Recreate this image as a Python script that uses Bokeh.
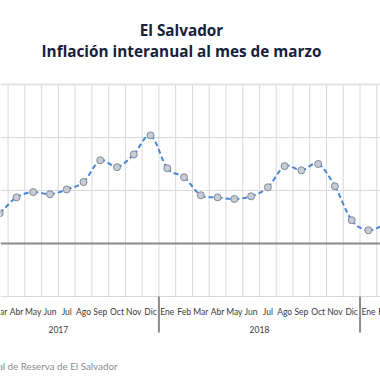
import numpy as np
from bokeh.plotting import figure
from bokeh.models import Range1d, FixedTicker, Grid, Span, ColumnDataSource
from bokeh.core.properties import value
from bokeh.embed import file_html
from bokeh.resources import INLINE

# ---- data ----
months = ["Ene", "Feb", "Mar", "Abr", "May", "Jun", "Jul", "Ago", "Sep", "Oct", "Nov", "Dic"]
years = ["2017", "2018"]
# month index counted from Ene 2017 = 0 (Mar 2017 .. Feb 2019)
month_index = list(range(2, 26))
inflation = [0.57, 0.87, 0.97, 0.93, 1.02, 1.16, 1.57, 1.44, 1.68, 2.04,
             1.42, 1.25, 0.91, 0.87, 0.84, 0.89, 1.06, 1.46, 1.38, 1.50, 1.08, 0.44,
             0.25, 0.36]
y_ticks = [-1, 0, 1, 2, 3]

title1 = "El Salvador"
title2 = "Inflación interanual al mes de marzo"
source_text = "Fuente: Banco Central de Reserva de El Salvador"

# ---- layout helpers (pixel layout of the 380x380 canvas) ----
W = H = 380
STEP = 16.76                     # px per month
X0 = 2 + 0.8 / STEP              # month index at left edge
TOP, BOT = 84, 296               # pixel rows of y=3 and y=-1
PPU = (BOT - TOP) / (y_ticks[-1] - y_ticks[0])


def xpx(px):
    return X0 + px / STEP


def ypx(py):
    return y_ticks[-1] - (py - TOP) / PPU


p = figure(width=W, height=H, output_backend="svg", toolbar_location=None,
           x_range=Range1d(xpx(0), xpx(W)), y_range=Range1d(ypx(H), ypx(0)),
           x_axis_type=None, y_axis_type=None, min_border=0)
p.title_location = None
p.outline_line_color = None
p.background_fill_color = "white"
p.border_fill_color = "white"

# grid
grid_idx = list(range(1, 27))
bounds = [i + 0.5 for i in grid_idx]
p.segment(x0=bounds, y0=y_ticks[0], x1=bounds, y1=y_ticks[-1], line_color="#d9d9d9", line_width=1)
p.add_layout(Grid(dimension=1, ticker=FixedTicker(ticks=[t for t in y_ticks if t not in (0, 3)]),
                  grid_line_color="#d9d9d9", grid_line_width=1))
p.add_layout(Span(location=y_ticks[-1], dimension="width", line_color="#e3e3e3", line_width=2))
p.add_layout(Span(location=0, dimension="width", line_color="#8a8a8a", line_width=2))

# category axis: month labels, year labels, year separators
p.text(x=month_index, y=ypx(311.5), text=[months[i % 12] for i in month_index],
       text_align="center", text_baseline="alphabetic", text_font=value("Lato"),
       text_font_size=value("8.5px"), text_color="#3a3a3a")
year_start = [0, 12]
year_center = [s + 5.5 for s in year_start]
p.text(x=year_center, y=ypx(328.7), text=years, text_align="center",
       text_baseline="alphabetic", text_font=value("Lato"),
       text_font_size=value("8.5px"), text_color="#3a3a3a")
sep = [11.5, 23.5]
p.segment(x0=sep, y0=ypx(BOT), x1=sep, y1=ypx(332), line_color="#8c8c8c", line_width=2)

# smoothed line as cubic Bezier segments (Catmull-Rom control points)
x = np.array(month_index, dtype=float)
y = np.array(inflation, dtype=float)
n = len(x)
tx = np.zeros(n); ty = np.zeros(n)
tx[1:-1] = (x[2:] - x[:-2]) / 2; ty[1:-1] = (y[2:] - y[:-2]) / 2
tx[0] = x[1] - x[0]; ty[0] = y[1] - y[0]
tx[-1] = x[-1] - x[-2]; ty[-1] = y[-1] - y[-2]
bez = ColumnDataSource(dict(
    x0=x[:-1], y0=y[:-1], x1=x[1:], y1=y[1:],
    cx0=x[:-1] + tx[:-1] / 3, cy0=y[:-1] + ty[:-1] / 3,
    cx1=x[1:] - tx[1:] / 3, cy1=y[1:] - ty[1:] / 3))
p.bezier(x0="x0", y0="y0", x1="x1", y1="y1", cx0="cx0", cy0="cy0", cx1="cx1", cy1="cy1",
         source=bez, line_color="#4a86d6", line_width=2, line_dash="5 3")

p.scatter(x=month_index, y=inflation, size=7, fill_color="#c8ccd4",
          line_color="#7d8a9a", line_width=1)

# titles and source
p.text(x=[xpx(181)], y=[ypx(29.3)], text=[title1], text_align="center",
       text_baseline="alphabetic", text_font=value("Open Sans"), text_font_style="bold",
       text_font_size=value("15.3px"), text_color="#14213d")
p.text(x=[xpx(181)], y=[ypx(50.7)], text=[title2], text_align="center",
       text_baseline="alphabetic", text_font=value("Open Sans"), text_font_style="bold",
       text_font_size=value("15.3px"), text_color="#14213d")
p.text(x=[xpx(117)], y=[ypx(365)], text=[source_text], text_align="right",
       text_baseline="alphabetic", text_font=value("Lato"),
       text_font_size=value("9.8px"), text_color="#8c8c8c")

open("out.html", "w").write(file_html(p, INLINE))
